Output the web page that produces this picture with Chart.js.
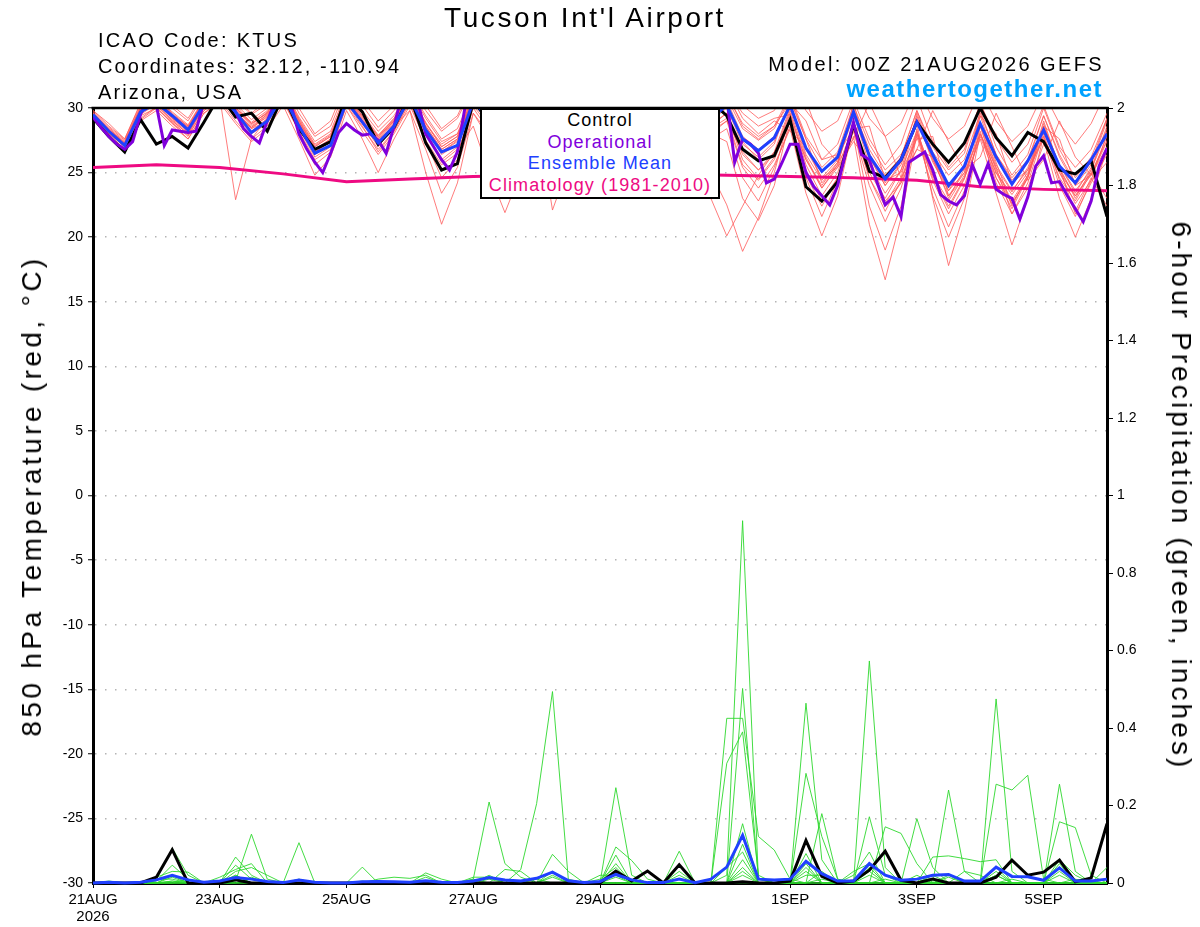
<!DOCTYPE html>
<html><head><meta charset="utf-8">
<script src="https://cdn.jsdelivr.net/npm/chart.js@4.4.1/dist/chart.umd.min.js"></script>
<style>
body{margin:0;background:#fff;width:1200px;height:927px;overflow:hidden;font-family:"Liberation Sans",Arial,sans-serif;}
#wrap{position:relative;width:1200px;height:927px;}
canvas{position:absolute;left:0;top:0;}
.t{position:absolute;white-space:nowrap;line-height:1;color:#000;}
#legend{position:absolute;left:480px;top:108px;width:240px;height:91px;box-sizing:border-box;border:2px solid #000;background:#fff;text-align:center;font-size:18px;letter-spacing:1.1px;line-height:21.7px;}
</style></head><body>
<div id="wrap">
<canvas id="c" width="1200" height="927"></canvas>
<div class="t" style="left:585px;top:18px;font-size:28px;letter-spacing:2.6px;transform:translate(-50%,-50%)">Tucson Int'l Airport</div>
<div class="t" style="left:98px;top:40px;font-size:20px;letter-spacing:2.3px;transform:translateY(-50%)">ICAO Code: KTUS</div>
<div class="t" style="left:98px;top:66px;font-size:20px;letter-spacing:2.1px;transform:translateY(-50%)">Coordinates: 32.12, -110.94</div>
<div class="t" style="left:98px;top:92px;font-size:20px;letter-spacing:2.1px;transform:translateY(-50%)">Arizona, USA</div>
<div class="t" style="right:96px;top:64px;font-size:20px;letter-spacing:2.4px;transform:translateY(-50%)">Model: 00Z 21AUG2026 GEFS</div>
<div class="t" style="right:97px;top:89px;font-size:24px;font-weight:bold;color:#00a2ff;letter-spacing:1.5px;transform:translateY(-50%)">weathertogether.net</div>
<div class="t" style="left:32px;top:496px;font-size:28px;letter-spacing:3.4px;transform:translate(-50%,-50%) rotate(-90deg)">850 hPa Temperature (red, °C)</div>
<div class="t" style="left:1181px;top:496px;font-size:28px;letter-spacing:3.1px;transform:translate(-50%,-50%) rotate(90deg)">6-hour Precipitation (green, inches)</div>
<div id="legend">
<div style="color:#000">Control</div>
<div style="color:#8000dc">Operational</div>
<div style="color:#2040ff">Ensemble Mean</div>
<div style="color:#ee0a82">Climatology (1981-2010)</div>
</div>
</div>
<script>
// ---- time axis (hours after 00Z 21AUG2026) ----
const tickHours  = [0, 48, 96, 144, 192, 264, 312, 360];
const tickLabels = [['21AUG','2026'], '23AUG', '25AUG', '27AUG', '29AUG', '1SEP', '3SEP', '5SEP'];
const climHours  = [0,24,48,72,96,120,144,168,192,216,240,264,288,312,336,360,384];

// ---- 850 hPa temperature (deg C), 6-hourly ----
const controlTemp = [29.2,27.8,26.6,29.1, 27.2,27.8,26.9,28.9, 31.0,29.3,29.6,28.2, 31.0,28.4,26.8,27.4,
  31.0,29.7,27.2,28.5, 31.0,27.3,25.2,25.7, 30.5,29.0,27.5,28.5, 31.0,28.5,27.8,29.0,
  31.5,29.5,28.0,29.0, 31.5,29.5,27.5,30.5, 29.4,26.8,25.9,26.3, 29.1,23.9,22.8,24.3,
  28.7,25.1,24.6,26.0, 28.9,27.2,25.8,27.3, 30.0,27.7,26.3,28.1, 27.4,25.2,24.9,25.9, 21.6];
const meanTemp = [29.5,28.2,27.1,29.7, 30.4,29.4,28.3,30.3, 31.0,29.7,28.1,29.0, 31.0,28.6,26.5,27.1,
  30.5,28.9,27.3,28.6, 30.8,28.3,26.6,27.1, 30.5,29.2,27.8,28.6, 30.8,28.8,27.9,29.0,
  30.6,29.2,28.0,29.0, 30.6,29.4,28.0,29.2, 30.2,27.6,26.7,27.7, 30.2,26.9,25.1,26.2,
  29.7,26.3,24.5,26.0, 28.9,26.4,24.0,25.5, 28.8,26.2,24.1,25.9, 28.3,25.5,24.2,26.0, 28.0];
// operational run, 3-hourly
const operTemp = [29.3,28.5,27.8,27.2,26.8,27.4,29.5,30.8, 30.2,27.1,28.3,28.2,28.1,28.2,30.5,31.5,
  32.0,31.0,29.7,28.4,27.8,27.3,29.0,30.5, 31.5,30.2,28.0,26.8,25.8,25.0,26.5,28.1,
  28.8,28.3,27.9,28.0,27.5,26.5,28.6,31.0, 31.5,30.5,28.0,27.0,26.0,25.2,26.6,30.2,
  31.0,30.0,29.0,28.2,27.4,27.8,28.8,30.2, 31.0,30.0,28.6,27.8,27.3,27.9,29.0,30.1,
  30.8,30.0,29.1,28.3,27.9,28.4,29.3,30.2, 31.0,30.4,29.2,28.5,28.0,28.7,29.6,30.5,
  30.8,25.8,27.6,27.2,26.5,24.2,24.5,25.8, 27.2,27.2,25.0,23.9,23.2,22.5,24.0,26.5,
  28.9,26.4,26.0,24.2,22.5,23.1,21.6,25.8, 26.2,26.6,25.2,23.3,22.8,22.5,23.2,25.6,
  24.1,25.7,23.7,23.3,23.0,21.4,23.1,25.5, 26.3,24.2,24.3,23.2,22.2,21.2,22.8,25.5, 26.9];
const climTemp = [25.4,25.6,25.4,24.9,24.3,24.5,24.7,24.8,24.9,24.9,24.8,24.7,24.6,24.4,23.9,23.7,23.6];

// ensemble members (temperature)
const ensT01 = [29.6,28.4,27.3,30.0, 30.8,29.5,28.6,30.6, 31.4,30.2,28.8,29.6, 31.5,29.0,27.0,27.8, 31.0,29.4,27.8,29.0, 31.2,28.8,27.0,27.8, 31.0,29.5,28.2,29.0, 31.2,29.2,28.3,29.5, 31.0,29.6,28.4,29.5, 31.0,29.8,28.5,29.6, 30.8,28.4,27.5,28.4, 30.8,27.6,24.2,25.6, 30.4,26.0,22.6,24.6, 29.6,26.2,23.0,25.3, 29.4,25.8,22.4,24.8, 29.0,25.4,21.8,24.2, 26.4];
const ensT02 = [29.2,27.9,26.8,29.4, 30.0,28.9,27.8,29.8, 30.6,29.0,27.6,28.6, 30.5,28.2,26.0,26.8, 30.2,28.5,26.8,28.2, 30.4,27.5,25.6,26.5, 30.2,28.6,27.2,28.2, 30.5,28.4,27.4,28.6, 30.4,28.9,27.7,28.8, 30.5,29.0,27.6,28.7, 29.6,26.0,24.5,26.2, 29.6,25.6,23.2,25.0, 28.6,25.0,23.0,25.2, 28.2,24.8,22.8,24.8, 28.0,25.0,23.3,25.0, 27.8,24.6,22.8,25.0, 27.5];
const ensT03 = [29.8,28.8,27.6,30.3, 31.0,30.0,29.0,31.0, 31.8,30.6,29.5,30.3, 32.0,29.6,27.8,28.6, 31.6,30.2,28.5,29.8, 31.8,29.8,28.2,29.2, 31.6,30.0,28.8,29.8, 31.8,30.0,29.0,30.0, 31.6,30.2,29.0,30.2, 31.5,30.4,29.2,30.4, 31.4,29.6,28.6,29.2, 29.5,30.6,27.2,25.8, 27.6,30.4,27.8,24.6, 26.8,29.8,27.4,25.2, 26.2,29.6,27.0,24.4, 26.0,29.0,26.2,24.8, 27.4];
const ensT04 = [29.4,28.0,27.0,29.6, 30.4,29.0,28.0,30.2, 30.8,22.9,27.6,29.2, 31.0,28.6,26.4,27.2, 30.6,28.8,27.0,28.6, 30.8,28.0,26.0,27.0, 30.6,28.8,27.6,28.6, 30.8,28.6,27.8,29.0, 30.6,29.0,27.8,29.0, 30.8,29.2,27.9,29.0, 30.0,27.2,26.2,27.4, 30.4,26.8,24.6,26.0, 30.0,26.5,24.2,26.2, 29.8,27.0,25.2,26.5, 30.4,27.0,24.8,26.4, 30.0,26.8,24.6,26.2, 29.2];
const ensT05 = [29.5,28.1,27.2,29.8, 30.2,29.0,28.0,30.0, 31.0,29.8,28.4,29.0, 31.2,28.8,26.8,27.4, 30.8,29.0,27.4,28.6, 29.8,25.0,21.0,24.2, 29.6,28.0,26.6,28.0, 30.5,28.8,27.6,28.8, 30.8,29.2,27.8,28.8, 30.6,29.0,26.5,25.0, 22.5,18.9,21.5,25.0, 29.5,26.0,23.8,25.6, 29.8,26.2,24.0,25.8, 29.2,25.8,23.6,25.6, 28.8,25.4,23.5,25.4, 28.4,25.0,23.2,24.8, 27.8];
const ensT06 = [29.3,27.8,26.9,29.2, 30.1,28.8,27.6,29.6, 30.6,29.4,28.0,28.8, 30.8,28.4,26.2,27.0, 30.4,28.6,26.6,28.2, 30.6,28.2,25.8,26.8, 28.6,25.0,21.9,25.0, 29.8,28.0,26.8,28.0, 30.2,28.6,27.2,28.5, 30.4,28.8,27.0,28.4, 29.2,25.6,24.4,26.0, 29.0,24.8,22.4,24.6, 27.8,21.0,16.7,21.5, 28.0,24.6,22.2,24.5, 28.6,25.2,22.8,24.8, 28.5,25.6,23.6,25.2, 28.2];
const ensT07 = [29.7,28.5,27.5,30.1, 30.8,29.6,28.6,30.6, 31.2,30.0,28.9,29.8, 31.4,29.2,27.2,28.0, 31.0,29.4,27.8,29.2, 31.0,28.6,26.8,27.6, 30.8,29.0,27.8,29.0, 29.8,22.1,25.5,28.2, 30.6,29.4,28.0,29.2, 30.8,29.4,28.2,29.2, 30.4,27.4,26.0,27.2, 30.6,27.6,25.4,26.6, 30.2,27.2,25.2,26.4, 28.8,23.0,17.8,22.0, 28.0,25.0,22.6,24.6, 28.6,25.6,23.4,25.4, 28.4];
const ensT08 = [29.4,28.0,27.1,29.5, 30.3,29.1,28.1,30.0, 30.9,29.6,28.2,29.2, 30.9,28.7,26.6,27.4, 30.6,28.8,27.2,28.6, 30.7,28.4,26.4,27.2, 30.6,28.8,27.4,28.6, 30.6,28.6,27.6,28.8, 30.6,29.0,27.6,28.8, 30.6,28.8,27.0,28.0, 29.0,25.4,23.8,25.6, 28.4,23.4,20.1,23.2, 28.6,24.6,22.0,24.4, 28.2,24.8,22.4,24.6, 27.6,23.4,19.4,23.0, 27.8,24.0,21.6,24.4, 28.0];
const ensT09 = [29.6,28.3,27.2,29.9, 30.6,29.4,28.4,30.4, 31.2,30.0,28.8,29.6, 31.4,29.0,26.8,27.6, 31.2,29.6,27.9,29.2, 31.4,29.2,27.4,28.0, 31.2,29.4,28.0,29.2, 31.4,29.4,28.2,29.4, 31.2,29.8,28.4,29.6, 31.2,29.8,28.6,29.8, 31.0,28.8,27.8,28.6, 30.4,29.0,26.0,26.4, 28.4,28.6,24.4,25.0, 27.6,27.8,23.2,24.6, 29.4,28.0,24.2,25.2, 28.6,27.6,24.0,24.8, 27.0];
const ensT10 = [29.5,28.2,27.2,29.7, 30.4,29.3,28.2,30.2, 31.0,29.7,28.4,29.4, 31.0,28.8,26.8,27.6, 30.8,29.0,27.2,28.8, 30.8,28.4,26.6,27.4, 30.6,29.0,27.6,28.8, 30.8,28.8,27.8,29.0, 30.8,29.2,27.9,29.0, 30.8,29.0,27.8,28.0, 27.4,23.0,21.3,24.0, 29.2,26.0,24.0,25.8, 29.4,26.2,24.0,25.6, 29.0,26.0,23.8,25.4, 28.8,25.6,23.6,25.2, 27.6,23.0,20.0,23.0, 26.8];
const ensT11 = [29.3,27.9,26.7,29.1, 30.0,28.8,27.9,29.8, 30.8,29.3,28.1,29.0, 30.6,28.2,25.6,26.6, 30.2,28.2,26.4,28.0, 30.2,27.4,24.6,26.0, 30.0,28.2,26.8,28.2, 30.2,28.2,27.2,28.4, 30.2,28.6,27.2,28.4, 30.4,28.6,27.0,28.2, 29.0,26.6,25.2,26.6, 29.0,25.2,22.8,24.6, 28.4,24.6,22.4,24.2, 28.0,24.4,21.8,24.0, 27.8,24.6,22.6,24.6, 28.2,25.2,23.2,25.0, 23.0];
const ensT12 = [29.8,28.6,27.6,30.4, 31.2,30.2,29.2,31.2, 32.0,30.8,29.6,30.6, 32.2,30.0,28.0,29.0, 32.0,30.6,29.0,30.2, 32.2,30.2,28.4,29.4, 32.0,30.4,29.2,30.2, 32.0,30.4,29.4,30.4, 32.0,30.6,29.4,30.6, 31.8,30.8,29.6,30.8, 31.8,30.2,29.2,29.8, 32.0,29.8,28.2,29.0, 31.8,29.2,27.8,28.8, 31.6,29.2,27.6,28.6, 31.4,29.0,27.4,28.6, 31.2,28.8,27.2,28.8, 31.4];
const ensT13 = [29.4,28.1,27.0,29.6, 30.5,29.2,28.3,30.3, 31.0,29.6,28.5,29.3, 31.2,28.8,26.6,27.4, 30.9,29.1,27.5,28.9, 31.0,28.6,26.8,27.6, 30.8,29.2,27.8,29.0, 31.0,29.0,28.0,29.2, 31.0,29.4,28.2,29.2, 31.0,29.4,28.0,29.0, 30.6,27.8,26.8,27.8, 30.2,26.4,24.4,25.8, 29.6,25.6,23.4,25.2, 29.4,26.0,23.2,25.0, 29.8,26.4,24.4,25.8, 29.4,26.2,24.0,25.6, 29.0];
const ensT14 = [29.5,28.3,27.3,29.9, 30.6,29.4,28.5,30.4, 31.1,29.9,28.6,29.5, 31.2,28.9,27.0,27.8, 30.9,29.2,27.6,29.0, 31.0,28.8,27.2,28.0, 30.6,29.0,27.8,28.8, 30.6,28.6,27.6,28.8, 30.4,28.8,27.4,28.4, 29.6,27.6,25.0,23.0, 20.1,22.4,24.8,26.6, 30.0,26.8,25.0,26.4, 29.8,26.8,24.8,26.2, 29.8,26.6,24.8,26.0, 29.6,26.4,24.6,26.0, 29.4,26.4,24.2,25.8, 29.2];
const ensT15 = [29.6,28.4,27.4,30.1, 30.7,29.7,28.7,30.7, 31.5,30.3,29.1,30.0, 31.6,29.3,27.4,28.2, 31.3,29.8,28.2,29.4, 31.5,29.4,27.6,28.4, 31.2,29.6,28.4,29.4, 31.4,29.6,28.6,29.6, 31.4,30.0,28.8,29.8, 31.4,30.0,28.8,29.8, 31.6,29.2,28.0,29.0, 28.2,27.0,24.6,25.4, 27.4,25.8,22.8,24.2, 26.8,26.2,23.6,25.0, 28.0,25.4,21.8,23.8, 27.2,25.0,22.6,24.4, 25.8];
const ensT16 = [29.2,27.7,26.6,29.0, 29.8,28.6,27.6,29.6, 30.4,28.8,27.4,28.4, 30.2,27.6,24.8,26.2, 29.8,27.6,25.0,27.6, 29.8,26.8,23.4,25.4, 29.6,27.6,26.2,27.6, 29.8,27.4,26.0,27.8, 29.8,28.0,26.6,28.0, 29.8,28.0,26.4,27.6, 28.4,24.6,22.8,25.4, 28.6,24.6,21.6,24.4, 28.2,24.0,21.2,23.8, 27.8,23.8,20.8,23.6, 28.2,24.2,21.8,24.2, 28.0,24.4,22.0,24.6, 22.4];
const ensT17 = [29.5,28.2,27.1,29.8, 30.5,29.2,28.2,30.2, 31.0,29.7,28.5,29.5, 31.0,28.6,26.6,27.4, 30.7,28.9,27.3,28.8, 30.9,28.5,26.6,27.5, 30.8,29.1,27.8,28.9, 30.9,28.9,27.9,29.1, 30.9,29.3,28.0,29.1, 30.9,29.1,27.6,28.6, 29.6,26.4,25.2,26.4, 29.8,26.2,23.8,25.4, 28.6,22.4,19.0,22.4, 28.4,23.2,20.0,23.0, 28.6,24.6,22.2,24.6, 28.8,25.4,23.0,25.2, 28.6];
const ensT18 = [29.6,28.3,27.3,30.0, 30.6,29.5,28.5,30.5, 31.3,30.0,28.7,29.7, 31.3,29.1,27.1,27.9, 31.0,29.3,27.7,29.1, 31.1,28.9,27.0,27.8, 31.0,29.4,28.0,29.2, 31.1,29.2,28.2,29.4, 31.1,29.5,28.3,29.4, 31.1,29.5,28.4,29.6, 31.2,28.6,27.6,28.6, 31.0,27.8,26.0,27.2, 30.6,27.6,25.6,27.2, 30.8,27.4,25.4,26.8, 30.4,27.6,25.8,27.2, 30.2,27.0,25.4,26.8, 29.6];

// ---- 6-hour precipitation (inches), 6-hourly ----
const controlPrcp = [0,0,0,0,0.015,0.086,0,0, 0,0.008,0,0,0,0,0,0, 0,0,0,0,0,0,0,0, 0,0,0,0,0,0,0,0,
  0,0.031,0.005,0.031,0,0.047,0,0, 0,0.003,0,0,0.005,0.11,0.017,0, 0.005,0.033,0.082,0.007,0,0.01,0,0,
  0,0.015,0.059,0.02,0.028,0.059,0.003,0.013, 0.153];
const meanPrcp = [0,0.002,0,0.002,0.008,0.02,0.008,0.002, 0.005,0.014,0.01,0.004,0.001,0.008,0.002,0,
  0,0.003,0.004,0.003,0.002,0.006,0.002,0.001, 0.005,0.014,0.008,0.005,0.012,0.028,0.006,0.001,
  0.004,0.022,0.008,0.001,0.001,0.01,0.001,0.01, 0.041,0.123,0.01,0.008,0.01,0.056,0.024,0.005,
  0.005,0.05,0.02,0.007,0.01,0.02,0.022,0.005, 0.005,0.041,0.017,0.016,0.007,0.039,0.005,0.005, 0.01];
const ensP01 = [0,0,0,0,0.01,0.09,0.02,0, 0,0.005,0.126,0.01,0,0,0,0, 0,0,0,0,0,0,0,0, 0,0,0,0.035,0.205,0.494,0.01,0,
  0,0,0,0,0,0,0,0, 0.02,0.935,0.01,0,0,0,0,0, 0,0.573,0.04,0,0,0,0,0, 0,0.02,0,0,0,0.05,0,0, 0];
const ensP02 = [0,0,0,0,0.005,0.046,0.01,0, 0,0.067,0.02,0,0,0,0,0, 0,0,0,0,0,0,0,0, 0.01,0.209,0.05,0.015,0,0,0,0,
  0,0,0,0,0,0,0,0, 0.425,0.425,0.12,0.085,0.01,0,0,0, 0,0,0,0,0,0,0.24,0.03, 0,0,0,0,0,0.255,0.03,0, 0];
const ensP03 = [0,0,0,0,0.015,0.03,0.028,0, 0,0.046,0.01,0,0,0.104,0,0, 0,0,0,0,0,0,0,0, 0,0,0,0,0,0,0,0,
  0,0.246,0.02,0,0,0,0,0, 0.309,0.39,0.02,0,0,0.464,0.06,0, 0,0,0,0,0,0,0,0, 0,0.475,0.03,0,0,0,0,0, 0.04];
const ensP04 = [0,0,0,0,0,0.02,0,0, 0.015,0.035,0.05,0,0,0,0,0, 0,0.041,0,0,0,0,0,0, 0,0,0,0,0,0,0,0,
  0,0,0,0,0,0,0,0, 0,0.502,0.01,0,0,0.283,0.12,0.01, 0,0,0,0,0.166,0.04,0,0, 0,0.255,0.24,0.278,0.01,0,0,0, 0];
const ensP05 = [0,0.005,0,0,0,0,0,0, 0,0.03,0.04,0.02,0,0,0,0, 0,0,0,0,0,0.026,0.01,0, 0,0,0,0,0,0.074,0.03,0,
  0,0.093,0.058,0.01,0,0,0,0, 0,0.153,0,0,0,0,0.179,0.01, 0,0,0.145,0.128,0.05,0,0,0, 0,0,0,0,0,0.158,0.143,0.02, 0];
const ensP06 = [0,0,0,0,0,0,0.01,0, 0,0,0,0,0,0,0,0, 0,0,0.01,0.015,0.012,0.02,0,0, 0,0,0.035,0.03,0,0,0,0,
  0,0.072,0,0,0,0.082,0,0, 0,0.04,0,0,0,0.076,0,0, 0,0.171,0.02,0,0,0.067,0.07,0.063, 0.055,0.06,0,0,0,0,0,0, 0.01];
const ensP07 = [0,0,0,0,0.01,0.01,0,0, 0,0.02,0,0,0,0,0,0, 0,0,0,0,0,0.015,0,0, 0.015,0.015,0,0,0,0.03,0,0,
  0.01,0.04,0,0,0,0.03,0,0, 0,0,0,0,0,0.05,0,0, 0.02,0.08,0,0,0.02,0,0,0.03, 0.02,0,0,0,0,0,0,0, 0];
const ensP08 = [0,0,0,0,0,0.005,0,0, 0,0.01,0,0,0,0.01,0,0, 0,0,0,0,0,0,0,0, 0.01,0,0,0,0.01,0,0,0,
  0.02,0.02,0,0,0,0,0,0, 0,0.06,0,0,0,0.03,0,0, 0.03,0.05,0,0,0,0.02,0,0, 0,0.03,0,0,0,0.02,0,0, 0];
const ensP09 = [0,0,0,0,0,0.015,0,0, 0,0,0.015,0,0,0,0,0, 0,0,0,0,0,0,0,0, 0,0.02,0,0,0,0.02,0,0,
  0,0.03,0,0,0,0,0,0, 0.04,0.08,0,0,0,0,0.03,0, 0,0.03,0,0,0,0,0.02,0, 0,0,0.01,0,0,0.06,0.02,0, 0];
const ensP10 = [0,0,0,0,0,0,0,0, 0,0.02,0,0,0,0,0,0, 0,0.005,0,0,0,0,0,0, 0,0,0,0,0,0,0,0,
  0,0.05,0,0,0,0.02,0,0, 0,0.02,0,0,0,0.02,0.02,0, 0,0,0.01,0,0,0,0,0, 0,0.04,0,0,0,0.03,0,0, 0];
const ensP11 = [0,0,0,0,0,0.005,0,0, 0,0,0,0,0,0,0,0, 0,0,0,0,0,0.005,0,0, 0,0,0,0,0,0.015,0,0,
  0,0,0,0,0,0,0,0, 0,0.1,0,0,0,0.04,0,0, 0,0.02,0,0,0.01,0,0,0, 0,0.02,0,0,0,0,0.01,0, 0];
const ensP12 = [0,0,0,0,0,0,0,0, 0,0.012,0,0,0,0,0,0, 0,0,0,0,0,0,0,0, 0,0.01,0,0,0,0,0,0,
  0,0.015,0,0,0,0,0,0, 0,0.03,0,0,0,0,0.01,0, 0,0.04,0,0,0,0,0.015,0, 0,0,0,0,0,0.04,0,0, 0];

const ensTemp = [ensT01,ensT02,ensT03,ensT04,ensT05,ensT06,ensT07,ensT08,ensT09,ensT10,ensT11,ensT12,ensT13,ensT14,ensT15,ensT16,ensT17,ensT18];
const ensPrcp = [ensP01,ensP02,ensP03,ensP04,ensP05,ensP06,ensP07,ensP08,ensP09,ensP10,ensP11,ensP12];

// ---- build chart ----
const FONT = "'Liberation Sans', Arial, sans-serif";
Chart.defaults.font.family = FONT;
const pts = (vals, stepH) => vals.map((v, i) => ({x: i * stepH, y: v}));
const ptsAt = (hours, vals) => vals.map((v, i) => ({x: hours[i], y: v}));

const datasets = [];
ensTemp.forEach(m => datasets.push({data: pts(m, 6), yAxisID: 'y', borderColor: '#ff5a5a', borderWidth: 0.8, order: 6}));
ensPrcp.forEach(m => datasets.push({data: pts(m, 6), yAxisID: 'y2', borderColor: '#2ed82e', borderWidth: 0.9, order: 5, clip: false}));
datasets.push({data: ptsAt(climHours, climTemp), yAxisID: 'y', borderColor: '#ee0a82', borderWidth: 3, order: 4});
datasets.push({data: pts(controlTemp, 6), yAxisID: 'y', borderColor: '#000000', borderWidth: 3, order: 3});
datasets.push({data: pts(controlPrcp, 6), yAxisID: 'y2', borderColor: '#000000', borderWidth: 3, order: 3, clip: false});
datasets.push({data: pts(operTemp, 3), yAxisID: 'y', borderColor: '#8000dc', borderWidth: 3, order: 2});
datasets.push({data: pts(meanTemp, 6), yAxisID: 'y', borderColor: '#2040ff', borderWidth: 3, order: 1});
datasets.push({data: pts(meanPrcp, 6), yAxisID: 'y2', borderColor: '#2040ff', borderWidth: 3, order: 1, clip: false});

const topBorder = {
  id: 'topBorder',
  afterDatasetsDraw(chart) {
    const {ctx, chartArea: a} = chart;
    ctx.save();
    ctx.strokeStyle = '#000';
    ctx.lineWidth = 2.5;
    ctx.beginPath();
    ctx.moveTo(a.left - 1.5, a.top);
    ctx.lineTo(a.right + 1.5, a.top);
    ctx.stroke();
    ctx.restore();
  }
};

new Chart(document.getElementById('c'), {
  type: 'line',
  data: {datasets},
  plugins: [topBorder],
  options: {
    responsive: false, maintainAspectRatio: false, animation: false, devicePixelRatio: 1,
    layout: {padding: {top: 108, left: 0, right: 0, bottom: 0}},
    plugins: {legend: {display: false}, tooltip: {enabled: false}},
    elements: {line: {tension: 0, fill: false}, point: {radius: 0}},
    scales: {
      x: {
        type: 'linear', position: 'bottom', min: 0, max: 384,
        afterBuildTicks: s => { s.ticks = tickHours.map(v => ({value: v})); },
        afterFit: s => { s.height = 44; },
        ticks: {
          autoSkip: false, maxRotation: 0, color: '#000', padding: 3,
          font: {size: 15, lineHeight: 1.15},
          callback: (v, i) => tickLabels[i]
        },
        grid: {drawOnChartArea: false, drawTicks: true, tickLength: 5, tickColor: '#000', tickWidth: 1},
        border: {display: true, color: '#000', width: 3}
      },
      y: {
        position: 'left', min: -30, max: 30,
        afterFit: s => { s.width = 93; },
        ticks: {stepSize: 5, color: '#000', padding: 5, font: {size: 14}},
        grid: {color: '#b4b4b4', lineWidth: 1.5, tickLength: 5, tickColor: '#000', tickWidth: 1},
        border: {display: true, color: '#000', width: 3, dash: [1.5, 8.5]}
      },
      y2: {
        position: 'right', min: 0, max: 2,
        afterFit: s => { s.width = 93; },
        ticks: {stepSize: 0.2, color: '#000', padding: 4, font: {size: 14}, callback: v => String(Number(v.toFixed(1)))},
        grid: {drawOnChartArea: false, tickLength: 6, tickColor: '#000', tickWidth: 1},
        border: {display: true, color: '#000', width: 3}
      }
    }
  }
});
</script>
</body></html>
